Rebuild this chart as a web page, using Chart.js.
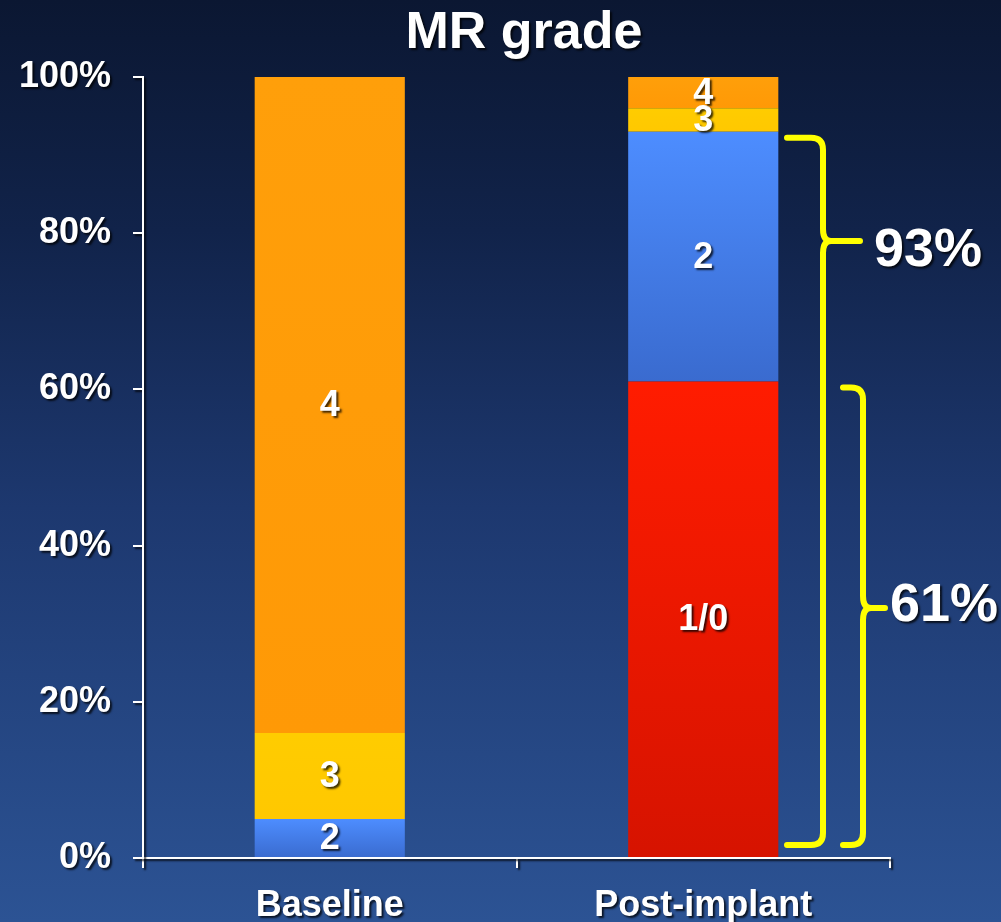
<!DOCTYPE html>
<html>
<head>
<meta charset="utf-8">
<title>MR grade</title>
<script src="https://cdn.jsdelivr.net/npm/chart.js@4.4.0/dist/chart.umd.min.js"></script>
<style>
  html, body { margin: 0; padding: 0; }
  body {
    width: 1001px;
    height: 922px;
    overflow: hidden;
    background: linear-gradient(#0b1732 0%, #11234a 25%, #1d386f 55%, #2c5394 100%);
  }
</style>
</head>
<body>
<canvas id="chart-area" width="1001" height="922"></canvas>
<script>
/* MR grade, stacked 100% bars */

const categories = ["Baseline", "Post-implant"];
const grades = ["1/0", "2", "3", "4"];
const grade10 = [0, 61];
const grade2 = [5, 32];
const grade3 = [11, 3];
const grade4 = [84, 4];
const yTicks = [0, 20, 40, 60, 80, 100];

const series = [grade10, grade2, grade3, grade4];
const fills = [
  ["#ff1c00", "#d61300"],
  ["#4d8dff", "#3a6bcf"],
  ["#ffcc00", "#ffc800"],
  ["#ff9f0a", "#ff9906"],
];

const FONT = '"Liberation Sans", Arial, Helvetica, sans-serif';

function shadowOn(ctx) {
  ctx.shadowColor = "rgba(0,0,0,0.75)";
  ctx.shadowOffsetX = 2;
  ctx.shadowOffsetY = 2;
  ctx.shadowBlur = 2;
}
function shadowOff(ctx) {
  ctx.shadowColor = "rgba(0,0,0,0)";
  ctx.shadowOffsetX = 0;
  ctx.shadowOffsetY = 0;
  ctx.shadowBlur = 0;
}

// vertical gradient over each stacked segment
function segmentFill(k) {
  const [top, bottom] = fills[k];
  return (c) => {
    const chart = c.chart;
    const y = chart.scales.y;
    if (!chart.chartArea || !y) return top;
    const i = c.dataIndex;
    let lo = 0;
    for (let j = 0; j < k; j++) lo += series[j][i];
    const hi = lo + series[k][i];
    if (hi === lo) return top;
    const g = chart.ctx.createLinearGradient(0, y.getPixelForValue(hi), 0, y.getPixelForValue(lo));
    g.addColorStop(0, top);
    g.addColorStop(1, bottom);
    return g;
  };
}

// yellow braces: 1/0 + 2 and 1/0 alone
const braces = [
  { from: 0, to: grade10[1] + grade2[1], spine: 823, arm: 787, tip: 860, at: 79, dx: 14, dy: 10 },
  { from: 0, to: grade10[1], spine: 863, arm: 843, tip: 885, at: 32, dx: 5, dy: -2 },
];

const titlePlugin = {
  id: "titlePlugin",
  beforeDraw(chart) {
    const ctx = chart.ctx;
    shadowOn(ctx);
    ctx.fillStyle = "#fff";
    ctx.font = "bold 52px " + FONT;
    ctx.textAlign = "center";
    ctx.textBaseline = "alphabetic";
    ctx.fillText("MR grade", 524, 48);
  },
  beforeDatasetsDraw(chart) {
    shadowOff(chart.ctx);
  },
};

const segmentLabels = {
  id: "segmentLabels",
  afterDatasetsDraw(chart) {
    const ctx = chart.ctx;
    ctx.save();
    shadowOn(ctx);
    ctx.fillStyle = "#fff";
    ctx.font = "bold 36px " + FONT;
    ctx.textAlign = "center";
    ctx.textBaseline = "middle";
    chart.data.datasets.forEach((ds, k) => {
      chart.getDatasetMeta(k).data.forEach((bar, i) => {
        if (!ds.data[i]) return;
        const p = bar.getProps(["x", "y", "base"], true);
        ctx.fillText(ds.label, p.x, (p.y + p.base) / 2 + 1);
      });
    });
    ctx.restore();
  },
};

const bracePlugin = {
  id: "bracePlugin",
  afterDraw(chart) {
    const ctx = chart.ctx;
    const y = chart.scales.y;
    ctx.save();
    braces.forEach((b) => {
      const yt = y.getPixelForValue(b.to) + 6;
      const yb = y.getPixelForValue(b.from) - 13;
      const ym = y.getPixelForValue(b.at);
      const x = b.spine;
      const r = 12;
      ctx.strokeStyle = "#ffff00";
      ctx.lineWidth = 6;
      ctx.lineCap = "round";
      ctx.lineJoin = "round";
      ctx.beginPath();
      ctx.moveTo(b.arm, yt);
      ctx.lineTo(x - r, yt);
      ctx.quadraticCurveTo(x, yt, x, yt + r);
      ctx.lineTo(x, ym - r);
      ctx.quadraticCurveTo(x, ym, x + 8, ym);
      ctx.moveTo(x, yb - r);
      ctx.lineTo(x, ym + r);
      ctx.quadraticCurveTo(x, ym, x + 8, ym);
      ctx.lineTo(b.tip, ym);
      ctx.moveTo(x, yb - r);
      ctx.quadraticCurveTo(x, yb, x - r, yb);
      ctx.lineTo(b.arm, yb);
      ctx.stroke();

      shadowOn(ctx);
      ctx.fillStyle = "#fff";
      ctx.font = "bold 54px " + FONT;
      ctx.textAlign = "left";
      ctx.textBaseline = "middle";
      ctx.fillText((b.to - b.from) + "%", b.tip + b.dx, ym + b.dy);
      shadowOff(ctx);
    });
    ctx.restore();
  },
};

const tickFont = { family: FONT, size: 36, weight: "bold" };

let config = {
  type: "bar",
  data: {
    labels: categories,
    datasets: series.map((values, k) => ({
      label: grades[k],
      data: values,
      backgroundColor: segmentFill(k),
      borderWidth: 0,
      barPercentage: 0.402,
      categoryPercentage: 1,
    })),
  },
  options: {
    responsive: false,
    animation: false,
    layout: { padding: { top: 77, right: 111, left: 0, bottom: 0 } },
    plugins: {
      legend: { display: false },
      tooltip: { enabled: false },
      title: { display: false },
    },
    scales: {
      x: {
        stacked: true,
        ticks: { color: "#fff", font: tickFont, padding: 16 },
        grid: {
          drawOnChartArea: false,
          drawTicks: true,
          tickLength: 10,
          color: "#fff",
          lineWidth: 2,
          offset: true,
        },
        border: { color: "#fff", width: 2 },
        afterFit: (s) => { s.height = 64; },
      },
      y: {
        stacked: true,
        min: 0,
        max: 100,
        afterBuildTicks: (s) => { s.ticks = yTicks.map((v) => ({ value: v })); },
        ticks: { color: "#fff", font: tickFont, padding: 22, callback: (v) => v + "%" },
        grid: {
          drawOnChartArea: false,
          drawTicks: true,
          tickLength: 10,
          color: "#fff",
          lineWidth: 2,
        },
        border: { color: "#fff", width: 2 },
        afterFit: (s) => { s.width = 143; },
      },
    },
  },
  plugins: [titlePlugin, segmentLabels, bracePlugin],
};

window.onload = function () {
  let ctx = document.getElementById("chart-area").getContext("2d");
  window.mrChart = new Chart(ctx, config);
};
</script>
</body>
</html>
